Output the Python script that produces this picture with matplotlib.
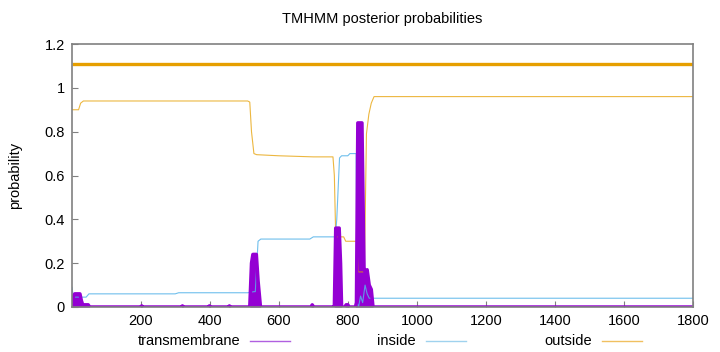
import matplotlib
matplotlib.use("Agg")
import matplotlib.pyplot as plt
from matplotlib.lines import Line2D

plt.rcParams['font.family'] = ['Liberation Sans', 'DejaVu Sans']

# sequence positions and posterior probabilities
tm_x = [1, 5, 9, 24, 28, 32, 48, 52, 200, 203, 206, 318, 321, 324, 396, 399, 402, 454, 457, 460,
        512, 516, 521, 525, 535, 540, 547, 693, 697, 701, 758, 761, 765, 775, 779, 782, 792, 795,
        800, 804, 822, 825, 829, 832, 841, 844, 847, 851, 856, 862, 868, 873, 1800]
tm_y = [0.0, 0.05, 0.06, 0.06, 0.03, 0.01, 0.01, 0.0, 0.0, 0.005, 0.0, 0.0, 0.005, 0.0, 0.0, 0.005, 0.0, 0.0, 0.005, 0.0,
        0.0, 0.0, 0.2, 0.24, 0.24, 0.12, 0.0, 0.0, 0.01, 0.0, 0.0, 0.0, 0.36, 0.36, 0.2, 0.0, 0.0, 0.01,
        0.01, 0.0, 0.0, 0.02, 0.84, 0.84, 0.84, 0.5, 0.18, 0.15, 0.17, 0.1, 0.08, 0.0, 0.0]

in_x = [1, 5, 42, 50, 300, 310, 510, 528, 532, 540, 548, 690, 700, 764, 768, 776, 782, 800, 806, 824,
        827, 831, 837, 843, 850, 856, 862, 1800]
in_y = [0.09, 0.045, 0.045, 0.06, 0.06, 0.065, 0.065, 0.07, 0.07, 0.3, 0.31, 0.31, 0.32, 0.32, 0.4, 0.68, 0.69, 0.69, 0.70, 0.70,
        0.02, 0.0, 0.05, 0.02, 0.1, 0.06, 0.04, 0.04]

out_x = [1, 20, 26, 34, 510, 516, 521, 528, 536, 600, 700, 757, 761, 765, 770, 788, 794, 826, 830,
         848, 854, 861, 868, 876, 1800]
out_y = [0.90, 0.90, 0.93, 0.94, 0.94, 0.935, 0.80, 0.70, 0.695, 0.69, 0.685, 0.685, 0.60, 0.32, 0.32,
         0.32, 0.30, 0.30, 0.16, 0.16, 0.79, 0.88, 0.93, 0.96, 0.96]

# topology bar (whole sequence predicted outside)
topo_x = [1, 1800]
topo_y = [1.11, 1.11]

purple = '#9400d3'
blue = '#56b4e9'
orange = '#e69f00'
gray = '#808080'

fig = plt.figure(figsize=(7.2, 3.52), dpi=100)
ax = fig.add_axes([72 / 720, 45 / 352, 621 / 720, 263 / 352])

ax.plot(topo_x, topo_y, color=orange, lw=2.4, solid_capstyle='butt')
ax.plot(out_x, out_y, color=orange, lw=0.8, alpha=0.75)
ax.plot(in_x, in_y, color=blue, lw=0.8, alpha=0.85)
ax.fill_between(tm_x, tm_y, 0, color=purple, lw=0)
ax.plot(tm_x, tm_y, color=purple, lw=2.5)

ax.set_xlim(1, 1800)
ax.set_ylim(0, 1.2)
ax.set_xticks(range(200, 1801, 200))
ax.set_yticks([0, 0.2, 0.4, 0.6, 0.8, 1.0, 1.2])
ax.set_yticklabels(['0', '0.2', '0.4', '0.6', '0.8', '1', '1.2'])
ax.tick_params(direction='in', length=4, color=gray, labelsize=10.5, pad=5)
for s in ax.spines.values():
    s.set_color(gray)
    s.set_linewidth(1.2)

ax.set_ylabel('probability', fontsize=10.5, labelpad=16)
ax.set_title('TMHMM posterior probabilities', fontsize=10.5, pad=15)

# gnuplot style key under the axis
labels = ['transmembrane', 'inside', 'outside']
colors = ['#b060e0', '#9fd2ee', '#f0c060']
text_right = [240, 416, 592]
for lab, c, xr in zip(labels, colors, text_right):
    fig.text(xr / 720, 1 - 341 / 352, lab, ha='right', va='center', fontsize=10.5)
    fig.add_artist(Line2D([(xr + 10) / 720, (xr + 50) / 720], [1 - 341 / 352] * 2,
                          color=c, lw=1.0, transform=fig.transFigure))

fig.savefig('out.png', dpi=100)
